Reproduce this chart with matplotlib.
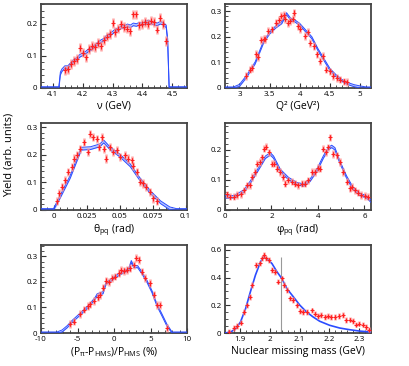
import numpy as np
import matplotlib
matplotlib.use("Agg")
import matplotlib.pyplot as plt
from matplotlib.ticker import MultipleLocator, FormatStrFormatter

plt.rcParams["font.family"] = ["Open Sans", "DejaVu Sans"]
plt.rcParams["mathtext.fontset"] = "custom"
plt.rcParams["mathtext.rm"] = "Open Sans"

# ---- panel 1: nu ----
nu_data_x = [4.14, 4.15, 4.16, 4.17, 4.18, 4.19, 4.20, 4.21, 4.22, 4.23, 4.24, 4.25,
             4.26, 4.27, 4.28, 4.29, 4.30, 4.31, 4.32, 4.33, 4.34, 4.35, 4.36, 4.37,
             4.38, 4.39, 4.40, 4.41, 4.42, 4.43, 4.44, 4.45, 4.46, 4.47, 4.48]
nu_data_y = [0.055, 0.058, 0.075, 0.085, 0.090, 0.125, 0.110, 0.095, 0.122, 0.130, 0.128, 0.140,
             0.130, 0.150, 0.160, 0.168, 0.203, 0.175, 0.185, 0.198, 0.190, 0.185, 0.178, 0.229,
             0.229, 0.195, 0.200, 0.205, 0.200, 0.210, 0.205, 0.182, 0.219, 0.200, 0.146]
nu_sim_x = [4.06, 4.12, 4.125, 4.13, 4.14, 4.15, 4.16, 4.17, 4.18, 4.19, 4.20, 4.21, 4.22,
            4.23, 4.24, 4.25, 4.26, 4.27, 4.28, 4.29, 4.30, 4.31, 4.32, 4.33, 4.34, 4.35,
            4.36, 4.37, 4.38, 4.39, 4.40, 4.41, 4.42, 4.43, 4.44, 4.45, 4.46, 4.47, 4.48,
            4.485, 4.49, 4.55]
nu_sim_y = [0, 0, 0.045, 0.055, 0.065, 0.065, 0.075, 0.085, 0.090, 0.100, 0.105, 0.110, 0.118,
            0.122, 0.130, 0.138, 0.145, 0.150, 0.160, 0.165, 0.172, 0.180, 0.183, 0.190, 0.190,
            0.195, 0.192, 0.198, 0.196, 0.200, 0.198, 0.203, 0.207, 0.203, 0.200, 0.198, 0.203,
            0.200, 0.192, 0.150, 0, 0]

# ---- panel 2: Q2 ----
q2_data_x = [3.11, 3.18, 3.20, 3.28, 3.30, 3.36, 3.40, 3.43, 3.48, 3.54, 3.61, 3.65, 3.69,
             3.73, 3.76, 3.80, 3.84, 3.88, 3.91, 3.97, 4.00, 4.09, 4.14, 4.17, 4.23, 4.28,
             4.33, 4.38, 4.44, 4.50, 4.55, 4.61, 4.67, 4.73, 4.78]
q2_data_y = [0.048, 0.072, 0.078, 0.133, 0.122, 0.187, 0.192, 0.192, 0.222, 0.229, 0.255,
             0.265, 0.281, 0.284, 0.270, 0.255, 0.262, 0.270, 0.294, 0.242, 0.231, 0.203,
             0.218, 0.176, 0.163, 0.131, 0.105, 0.124, 0.072, 0.065, 0.048, 0.040, 0.033,
             0.026, 0.024]
q2_sim_x = [2.76, 2.90, 3.00, 3.12, 3.26, 3.40, 3.50, 3.60, 3.70, 3.78, 3.85, 3.90, 4.00,
            4.10, 4.20, 4.30, 4.40, 4.50, 4.60, 4.70, 4.80, 4.90, 5.00, 5.10, 5.18]
q2_sim_y = [0, 0, 0.010, 0.046, 0.098, 0.180, 0.215, 0.238, 0.255, 0.290, 0.268, 0.265, 0.248,
            0.222, 0.196, 0.150, 0.111, 0.072, 0.048, 0.029, 0.017, 0.009, 0.004, 0, 0]

# ---- panel 3: theta_pq ----
th_data_x = [0.0025, 0.0043, 0.0063, 0.0088, 0.0113, 0.0138, 0.0156, 0.018, 0.020, 0.0227,
             0.0257, 0.0277, 0.030, 0.033, 0.0345, 0.0365, 0.038, 0.040, 0.0428, 0.045,
             0.048, 0.050, 0.054, 0.0566, 0.059, 0.0605, 0.063, 0.0655, 0.068, 0.070,
             0.073, 0.0755, 0.078]
th_data_y = [0.032, 0.060, 0.084, 0.108, 0.138, 0.156, 0.186, 0.200, 0.222, 0.246,
             0.210, 0.276, 0.264, 0.258, 0.228, 0.264, 0.222, 0.186, 0.228, 0.210,
             0.216, 0.192, 0.198, 0.186, 0.180, 0.160, 0.138, 0.102, 0.096, 0.084,
             0.066, 0.042, 0.032]
th_sim_x = [-0.01, 0.0, 0.005, 0.0126, 0.021, 0.028, 0.035, 0.038, 0.043, 0.050, 0.058,
            0.065, 0.073, 0.081, 0.088, 0.093, 0.101]
th_sim_y = [0, 0, 0.048, 0.120, 0.222, 0.224, 0.234, 0.248, 0.222, 0.198, 0.162,
            0.114, 0.066, 0.028, 0.006, 0, 0]

# ---- panel 4: phi_pq ----
ph_data_x = [0.07, 0.22, 0.38, 0.53, 0.67, 0.81, 0.95, 1.08, 1.17, 1.28, 1.38, 1.50, 1.60,
             1.67, 1.77, 1.88, 2.02, 2.12, 2.24, 2.38, 2.49, 2.59, 2.73, 2.88, 3.02, 3.16,
             3.30, 3.45, 3.59, 3.73, 3.87, 4.02, 4.10, 4.23, 4.33, 4.44, 4.54, 4.66, 4.80,
             4.94, 5.09, 5.23, 5.37, 5.48, 5.58, 5.73, 5.87, 6.01, 6.15]
ph_data_y = [0.052, 0.044, 0.044, 0.050, 0.053, 0.066, 0.083, 0.083, 0.110, 0.127, 0.154,
             0.160, 0.176, 0.204, 0.211, 0.193, 0.154, 0.154, 0.138, 0.127, 0.110, 0.088,
             0.099, 0.094, 0.088, 0.083, 0.088, 0.088, 0.099, 0.127, 0.127, 0.140, 0.138,
             0.204, 0.193, 0.209, 0.242, 0.187, 0.182, 0.160, 0.127, 0.094, 0.072, 0.077,
             0.066, 0.058, 0.050, 0.047, 0.044]
ph_sim_x = [0.0, 0.38, 0.81, 1.10, 1.45, 1.74, 1.95, 2.09, 2.38, 2.73, 3.09, 3.38, 3.66,
            3.95, 4.23, 4.44, 4.59, 4.73, 4.94, 5.23, 5.51, 5.80, 6.08, 6.28]
ph_sim_y = [0.044, 0.044, 0.063, 0.094, 0.138, 0.176, 0.187, 0.176, 0.132, 0.105, 0.088,
            0.083, 0.099, 0.132, 0.176, 0.204, 0.212, 0.204, 0.160, 0.110, 0.072, 0.052,
            0.044, 0.030]

# ---- panel 5: (P_pi - P_HMS)/P_HMS ----
dp_data_x = [-5.98, -5.43, -4.60, -4.06, -3.60, -3.24, -2.79, -2.24, -1.87, -1.50, -1.05,
             -0.73, -0.27, 0.18, 0.64, 1.00, 1.42, 1.78, 2.24, 2.69, 3.06, 3.38, 3.84, 4.29,
             4.98, 5.45, 5.89, 6.35, 7.26]
dp_data_y = [0.035, 0.045, 0.075, 0.092, 0.105, 0.112, 0.125, 0.140, 0.150, 0.178, 0.205,
             0.200, 0.215, 0.221, 0.234, 0.246, 0.244, 0.248, 0.254, 0.267, 0.294, 0.287,
             0.241, 0.215, 0.195, 0.150, 0.109, 0.109, 0.020]
dp_sim_x = [-10.0, -7.8, -7.1, -6.4, -5.75, -4.6, -3.5, -2.6, -2.3, -1.5, -1.1, -0.5, 0.41,
            1.32, 2.0, 2.37, 2.69, 3.24, 3.84, 4.52, 5.2, 5.89, 6.58, 7.26, 7.95, 10.0]
dp_sim_y = [0, 0, 0.008, 0.025, 0.045, 0.075, 0.105, 0.135, 0.150, 0.158, 0.195, 0.205,
            0.225, 0.240, 0.248, 0.280, 0.260, 0.260, 0.235, 0.202, 0.162, 0.109, 0.070,
            0.030, 0, 0]

# ---- panel 6: nuclear missing mass ----
mm_data_x = [1.864, 1.880, 1.891, 1.902, 1.913, 1.924, 1.935, 1.941, 1.955, 1.966, 1.974,
             1.982, 1.988, 1.996, 2.007, 2.018, 2.026, 2.040, 2.048, 2.059, 2.068, 2.079,
             2.090, 2.101, 2.112, 2.123, 2.140, 2.151, 2.162, 2.173, 2.184, 2.195, 2.206,
             2.217, 2.231, 2.245, 2.256, 2.267, 2.278, 2.289, 2.300, 2.311, 2.322, 2.333]
mm_data_y = [0.007, 0.036, 0.051, 0.075, 0.152, 0.200, 0.261, 0.345, 0.490, 0.502, 0.539,
             0.563, 0.539, 0.527, 0.454, 0.442, 0.370, 0.394, 0.345, 0.309, 0.249, 0.237,
             0.200, 0.157, 0.152, 0.152, 0.164, 0.140, 0.121, 0.128, 0.116, 0.121, 0.116,
             0.116, 0.123, 0.128, 0.092, 0.097, 0.085, 0.060, 0.068, 0.060, 0.043, 0.024]
mm_sim_x = [1.850, 1.869, 1.886, 1.902, 1.919, 1.935, 1.952, 1.969, 1.980, 1.991, 2.007,
            2.024, 2.040, 2.057, 2.079, 2.101, 2.123, 2.145, 2.167, 2.200, 2.234, 2.267,
            2.300, 2.339]
mm_sim_y = [0, 0.007, 0.031, 0.080, 0.176, 0.297, 0.418, 0.514, 0.551, 0.534, 0.502,
            0.442, 0.394, 0.321, 0.261, 0.200, 0.152, 0.116, 0.085, 0.056, 0.036, 0.024,
            0.014, 0.007]
mm_cut = 2.037

RED = "#ff2020"
PINK = "#ff9090"
BLUE = "#2b4cff"


def draw_panel(ax, dx, dy, sx, sy, err, band, xlim, ylim, xmaj, xmin, ymaj, ymin, xlabel):
    sx = np.array(sx)
    sy = np.array(sy)
    if band > 0:
        ax.fill_between(sx, sy - band, sy + band, color="#b8c6ff", lw=0, zorder=2)
        ax.plot(sx, sy + band, color=BLUE, lw=0.7, zorder=3)
        ax.plot(sx, np.clip(sy - band, 0, None), color=BLUE, lw=0.7, zorder=3)
    else:
        ax.plot(sx, sy, color=BLUE, lw=1.2, zorder=3)
    ax.errorbar(dx, dy, yerr=err, fmt="none", ecolor=PINK, elinewidth=1.8, alpha=0.8, zorder=4)
    ax.errorbar(dx, dy, yerr=err * 0.6, fmt="+", color=RED, ms=3, mew=0.8,
                elinewidth=0.8, zorder=5)
    ax.set_xlim(*xlim)
    ax.set_ylim(*ylim)
    ax.xaxis.set_major_locator(MultipleLocator(xmaj))
    ax.xaxis.set_minor_locator(MultipleLocator(xmin))
    ax.yaxis.set_major_locator(MultipleLocator(ymaj))
    ax.yaxis.set_minor_locator(MultipleLocator(ymin))
    ax.xaxis.set_major_formatter(FormatStrFormatter("%g"))
    ax.yaxis.set_major_formatter(FormatStrFormatter("%g"))
    ax.tick_params(which="both", direction="in", top=False, right=False, labelsize=5.8,
                   color="#333333", pad=2.5)
    ax.tick_params(which="major", length=3.5, width=0.8)
    ax.tick_params(which="minor", length=2, width=0.6)
    for sp in ax.spines.values():
        sp.set_color("#444444")
        sp.set_linewidth(1.3)
    ax.set_xlabel(xlabel, fontsize=7.5, labelpad=1.5)


fig = plt.figure(figsize=(4.09, 3.66), dpi=100)
W = 146 / 409
lefts = [41 / 409, 225 / 409]
rows = [(1 - 88 / 366, 84.5 / 366), (1 - 210 / 366, 87 / 366), (1 - 333 / 366, 88 / 366)]

ax1 = fig.add_axes([lefts[0], rows[0][0], W, rows[0][1]])
draw_panel(ax1, nu_data_x, nu_data_y, nu_sim_x, nu_sim_y, 0.015, 0.004,
           (4.06, 4.55), (0, 0.263), 0.1, 0.02, 0.1, 0.02, "ν (GeV)")

ax2 = fig.add_axes([lefts[1], rows[0][0], W, rows[0][1]])
draw_panel(ax2, q2_data_x, q2_data_y, q2_sim_x, q2_sim_y, 0.015, 0.004,
           (2.76, 5.18), (0, 0.33), 0.5, 0.1, 0.1, 0.02, "Q² (GeV²)")

ax3 = fig.add_axes([lefts[0], rows[1][0], W, rows[1][1]])
draw_panel(ax3, th_data_x, th_data_y, th_sim_x, th_sim_y, 0.015, 0.005,
           (-0.0095, 0.101), (0, 0.315), 0.025, 0.005, 0.1, 0.02,
           r"θ$_{\mathregular{pq}}$ (rad)")

ax4 = fig.add_axes([lefts[1], rows[1][0], W, rows[1][1]])
draw_panel(ax4, ph_data_x, ph_data_y, ph_sim_x, ph_sim_y, 0.012, 0.004,
           (0, 2 * np.pi), (0, 0.29), 2, 0.5, 0.1, 0.02,
           "φ$_{\\mathregular{pq}}$ (rad)")

ax5 = fig.add_axes([lefts[0], rows[2][0], W, rows[2][1]])
draw_panel(ax5, dp_data_x, dp_data_y, dp_sim_x, dp_sim_y, 0.015, 0.004,
           (-10, 10), (0, 0.345), 5, 1, 0.1, 0.02,
           r"(P$_{\mathregular{\pi}}$-P$_{\mathregular{HMS}}$)/P$_{\mathregular{HMS}}$ (%)")

ax6 = fig.add_axes([lefts[1], rows[2][0], W, rows[2][1]])
draw_panel(ax6, mm_data_x, mm_data_y, mm_sim_x, mm_sim_y, 0.02, 0,
           (1.85, 2.339), (0, 0.635), 0.1, 0.02, 0.2, 0.05,
           "Nuclear missing mass (GeV)")
ax6.vlines(mm_cut, 0, 0.545, color="#999999", lw=0.8, zorder=1)

fig.text(0.022, 0.576, "Yield (arb. units)", rotation=90, ha="center", va="center",
         fontsize=8)

fig.savefig("out.png", dpi=100)
